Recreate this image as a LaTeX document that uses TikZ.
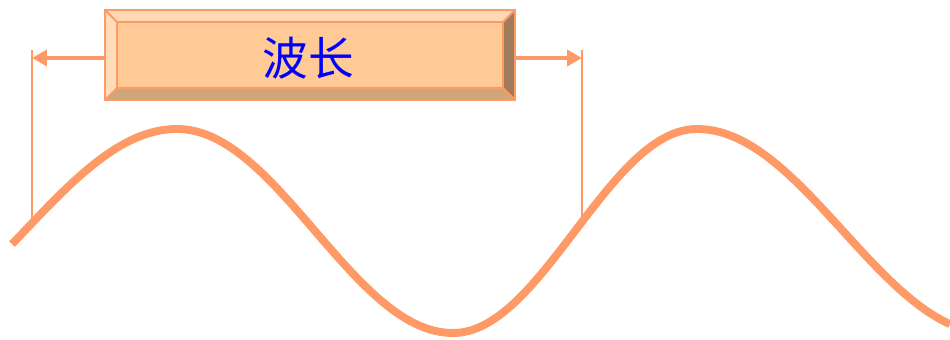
\documentclass[tikz,border=0pt]{standalone}
\usepackage{fontspec}
\newfontfamily\cjk{Noto Sans CJK SC}
\usetikzlibrary{arrows.meta,positioning,calc}
\definecolor{waveorange}{HTML}{FF9966}
\definecolor{boxface}{HTML}{FFCA96}
\definecolor{bevtop}{HTML}{FFD9B3}
\definecolor{bevleft}{HTML}{FFDDBB}
\definecolor{bevbottom}{HTML}{CFA57A}
\definecolor{bevright}{HTML}{9F7C5C}

\begin{document}
\begin{tikzpicture}[x=0.02cm,y=-0.02cm,
  box/.style={fill=boxface,minimum width=8.2cm,minimum height=1.8cm,inner sep=0pt},
  edge/.style={draw=waveorange,line width=1.1pt},
  guide/.style={draw=waveorange,line width=1.1pt},
  span/.style={draw=waveorange,line width=2.3pt,-{Triangle[length=0.3cm,width=0.32cm]}},
  wave/.style={draw=waveorange,line width=4.5pt,line join=round}]
  \useasboundingbox (0,0) rectangle (950,340);
  \node[box] (box) at (310,55) {};
  \coordinate (inw) at ($(box.north west)+(12,12)$);
  \coordinate (ine) at ($(box.north east)+(-12,12)$);
  \coordinate (isw) at ($(box.south west)+(12,-12)$);
  \coordinate (ise) at ($(box.south east)+(-12,-12)$);
  \fill[bevtop] (box.north west) -- (box.north east) -- (ine) -- (inw) -- cycle;
  \fill[bevleft] (box.north west) -- (inw) -- (isw) -- (box.south west) -- cycle;
  \fill[bevbottom] (box.south west) -- (isw) -- (ise) -- (box.south east) -- cycle;
  \fill[bevright] (box.north east) -- (ine) -- (ise) -- (box.south east) -- cycle;
  \draw[edge] (box.north west) rectangle (box.south east);
  \draw[edge] (inw) rectangle (ise);
  \draw[edge] (box.north west) -- (inw) (box.north east) -- (ine)
    (box.south west) -- (isw) (box.south east) -- (ise);
  \node[font=\cjk\fontsize{26}{28}\selectfont,text=blue] (label) at ($(box.center)+(-2,3)$) {波长};
  % wavelength marks
  \coordinate (lt) at (32,50);
  \coordinate (lb) at (32,222);
  \coordinate (rt) at (582,50);
  \coordinate (rb) at (582,221);
  \coordinate (la) at (32,58);
  \coordinate (ra) at (582,58);
  \draw[guide] (lt) -- (lb);
  \draw[guide] (rt) -- (rb);
  \draw[span] (box.west |- la) -- (la);
  \draw[span] (box.east |- ra) -- (ra);
  % wave
  \draw[wave] plot[domain=12:177,samples=40] (\x,{231-102*cos((177-\x)/305*180)})
    -- plot[domain=177:453,samples=60] (\x,{231-102*cos((\x-177)/276*180)})
    -- plot[domain=453:697,samples=60] (\x,{231+102*cos((\x-453)/244*180)})
    -- plot[domain=697:950,samples=60] (\x,{231-102*cos((\x-697)/292*180)});
\end{tikzpicture}
\end{document}
